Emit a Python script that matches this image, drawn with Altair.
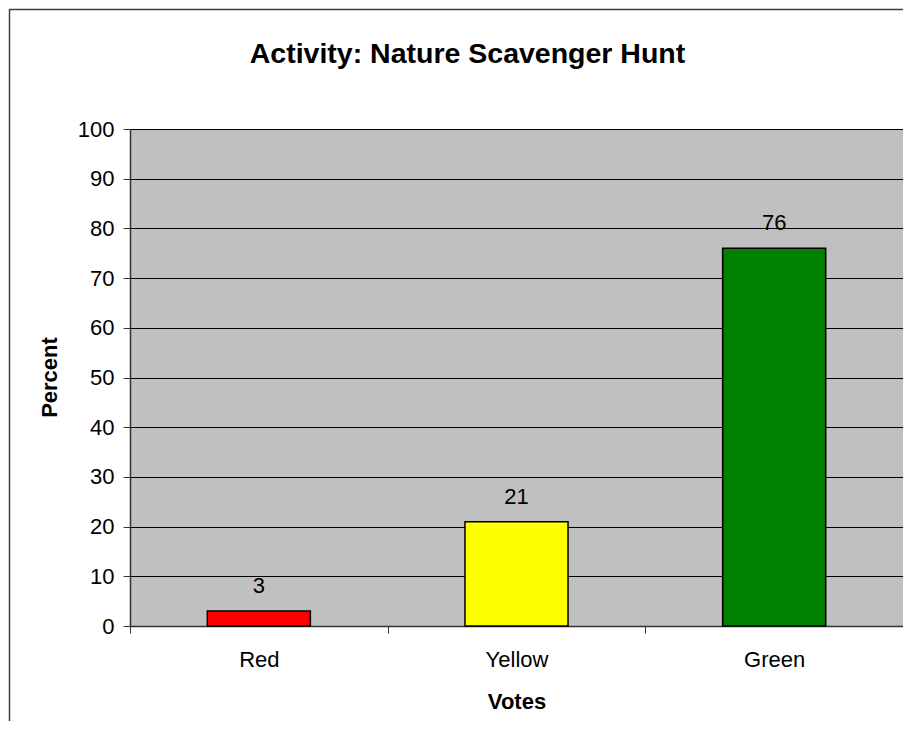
import altair as alt
import pandas as pd

categories = ["Red", "Yellow", "Green"]
values = [3, 21, 76]
colors = ["#FF0000", "#FFFF00", "#008000"]
y_ticks = [0, 10, 20, 30, 40, 50, 60, 70, 80, 90, 100]
chart_title = "Activity: Nature Scavenger Hunt"

df = pd.DataFrame({"cat": categories, "value": values})

FONT = "Liberation Sans"
W = 773
H = 497

x_enc = alt.X(
    "cat:N",
    sort=categories,
    scale=alt.Scale(paddingInner=0, paddingOuter=0),
    axis=alt.Axis(
        title="Votes",
        labelAngle=0,
        tickBand="extent",
        labelFont=FONT,
        labelFontSize=22,
        labelColor="black",
        labelPadding=16,
        tickSize=7,
        tickColor="#333333",
        domainColor="#333333",
        domainWidth=1.5,
        titleFont=FONT,
        titleFontSize=22,
        titleFontWeight="bold",
        titleColor="black",
        titleBaseline="alphabetic",
        titleY=82,
        grid=False,
    ),
)

y_enc = alt.Y(
    "value:Q",
    scale=alt.Scale(domain=[0, 100]),
    axis=alt.Axis(
        title="Percent",
        values=y_ticks,
        grid=True,
        gridColor="black",
        gridOpacity=1,
        gridWidth=1,
        labelFont=FONT,
        labelFontSize=22,
        labelColor="black",
        labelPadding=9,
        tickSize=7,
        tickColor="#333333",
        domainColor="#333333",
        domainWidth=1.5,
        titleFont=FONT,
        titleFontSize=22,
        titleFontWeight="bold",
        titleColor="black",
        titleAngle=-90,
        titleAlign="center",
        titleBaseline="alphabetic",
        titleX=-74,
        titleY=248,
    ),
)

bars = alt.Chart(df).mark_bar(
    width={"band": 0.4}, stroke="black", strokeWidth=1.5
).encode(
    x=x_enc,
    y=y_enc,
    color=alt.Color("cat:N", scale=alt.Scale(domain=categories, range=colors), legend=None),
)

labels = alt.Chart(df).mark_text(
    baseline="alphabetic", dy=-18, font=FONT, fontSize=22, color="black"
).encode(
    x=alt.X("cat:N", sort=categories),
    y=alt.Y("value:Q"),
    text=alt.Text("value:Q"),
)

title_mark = alt.Chart(alt.Data(values=[{"t": chart_title}])).mark_text(
    font=FONT, fontSize=28.5, fontWeight="bold", color="black",
    align="center", baseline="alphabetic"
).encode(
    x=alt.value(337.5), y=alt.value(-66), text=alt.Text("t:N")
)

frame = alt.Chart(alt.Data(values=[{}])).mark_rect(
    fill=None, stroke="#404040", strokeWidth=1.5
).encode(
    x=alt.value(-120.5), x2=alt.value(900), y=alt.value(-119.5), y2=alt.value(800)
)

chart = alt.layer(bars, labels, title_mark, frame).properties(
    width=W,
    height=H,
    autosize=alt.AutoSizeParams(type="none"),
    padding={"left": 122, "top": 121, "right": 0, "bottom": 95},
    background="white",
).configure_view(
    fill="#C0C0C0", stroke="#808080", strokeWidth=1
)

chart.save("out.html", embed_options={"renderer": "svg", "actions": False})
